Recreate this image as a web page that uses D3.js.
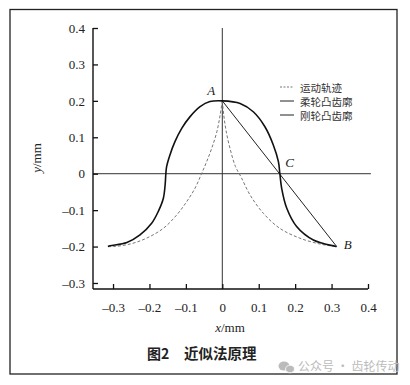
<!DOCTYPE html>
<html><head><meta charset="utf-8">
<script src="https://cdn.jsdelivr.net/npm/d3@7"></script>
<style>html,body{margin:0;padding:0;background:#fff;}svg{display:block;}</style>
</head><body>
<script>
// ---- data ----
const xTicks = [-0.3, -0.2, -0.1, 0, 0.1, 0.2, 0.3, 0.4];
const yTicks = [-0.3, -0.2, -0.1, 0, 0.1, 0.2, 0.3, 0.4];
// flexspline convex tooth profile (left bottom -> top -> right bottom)
const flexX = [-0.314, -0.308, -0.262, -0.226, -0.194, -0.176, -0.162, -0.157, -0.155, -0.153, -0.144, -0.130, -0.111, -0.089, -0.061, -0.034, 0,
               0.049, 0.085, 0.117, 0.140, 0.154, 0.158, 0.163, 0.177, 0.204, 0.250, 0.309, 0.314];
const flexY = [-0.2, -0.198, -0.189, -0.168, -0.136, -0.104, -0.068, -0.031, 0, 0.019, 0.051, 0.088, 0.125, 0.156, 0.184, 0.198, 0.2,
               0.193, 0.170, 0.129, 0.079, 0.033, 0, -0.040, -0.095, -0.145, -0.182, -0.199, -0.2];
// motion trajectory (two branches meeting in a cusp at A)
const trajLeftX = [-0.314, -0.299, -0.253, -0.208, -0.162, -0.125, -0.098, -0.075, -0.057, -0.043, -0.029, -0.015, -0.006, 0];
const trajLeftY = [-0.2, -0.2, -0.193, -0.177, -0.150, -0.113, -0.077, -0.040, 0, 0.033, 0.070, 0.115, 0.161, 0.2];
const trajRightX = [0, 0.004, 0.010, 0.021, 0.036, 0.052, 0.076, 0.113, 0.158, 0.213, 0.268, 0.305, 0.314];
const trajRightY = [0.2, 0.161, 0.120, 0.070, 0.020, -0.010, -0.058, -0.109, -0.150, -0.177, -0.193, -0.199, -0.2];
// circular spline convex tooth profile (straight line A-B)
const rigidX = [0, 0.314];
const rigidY = [0.2, -0.2];
const legendLabels = ["运动轨迹", "柔轮凸齿廓", "刚轮凸齿廓"];
const pointLabels = [{t:"A", x:0, y:0.2}, {t:"C", x:0.157, y:0}, {t:"B", x:0.314, y:-0.2}];

const W = 410, H = 385;
const svg = d3.select("body").append("svg").attr("width", W).attr("height", H);

// frame
svg.append("rect").attr("x", 10).attr("y", 9.5).attr("width", 387).attr("height", 364.5)
  .attr("fill", "#fff").attr("stroke", "#222").attr("stroke-width", 1.3);

const x = d3.scaleLinear().domain([-0.355, 0.4]).range([93, 368]);
const y = d3.scaleLinear().domain([-0.3165, 0.4]).range([289, 28]);

const serif = "'Liberation Serif','DejaVu Serif',serif";
const fmt = d => d === 0 ? "0" : (d < 0 ? "\u2013" + d3.format(".1f")(-d) : d3.format(".1f")(d));

// reference lines
svg.append("line").attr("x1", x(0)).attr("x2", x(0)).attr("y1", y(0.4)).attr("y2", y(-0.3165))
  .attr("stroke", "#333").attr("stroke-width", 1);
svg.append("line").attr("x1", x(-0.355)).attr("x2", x(0.408)).attr("y1", y(0)).attr("y2", y(0))
  .attr("stroke", "#333").attr("stroke-width", 1);

// axes
const gx = svg.append("g").attr("transform", `translate(0,${y(-0.3165)})`)
  .call(d3.axisBottom(x).tickValues(xTicks).tickSize(-5).tickPadding(14).tickFormat(fmt));
const gy = svg.append("g").attr("transform", `translate(${x(-0.355)},0)`)
  .call(d3.axisLeft(y).tickValues(yTicks).tickSize(-5).tickPadding(8).tickFormat(fmt));
[gx, gy].forEach(g => {
  g.attr("font-family", serif).attr("font-size", 13);
  g.select(".domain").attr("stroke", "#111").attr("stroke-width", 1.4);
  g.selectAll(".tick line").attr("stroke", "#111").attr("stroke-width", 1.3);
  g.selectAll(".tick text").style("font-family", serif).style("font-size", "13px").attr("fill", "#222");
});
gx.select(".domain").attr("d", `M${x(-0.355)},0H${x(0.4)}`);
gy.select(".domain").attr("d", `M0,${y(-0.3165)}V${y(0.4)}`);

// curves
const line = d3.line().x(d => x(d[0])).y(d => y(d[1])).curve(d3.curveCatmullRom.alpha(0.5));
const zipXY = (a, b) => a.map((v, i) => [v, b[i]]);

svg.append("path").attr("d", line(zipXY(trajLeftX, trajLeftY)))
  .attr("fill", "none").attr("stroke", "#777").attr("stroke-width", 1).attr("stroke-dasharray", "3,2");
svg.append("path").attr("d", line(zipXY(trajRightX, trajRightY)))
  .attr("fill", "none").attr("stroke", "#777").attr("stroke-width", 1).attr("stroke-dasharray", "3,2");
svg.append("path").attr("d", d3.line().x(d => x(d[0])).y(d => y(d[1]))(zipXY(rigidX, rigidY)))
  .attr("fill", "none").attr("stroke", "#222").attr("stroke-width", 1);
svg.append("path").attr("d", line(zipXY(flexX, flexY)))
  .attr("fill", "none").attr("stroke", "#111").attr("stroke-width", 1.6);

// point labels
const off = {A: [-11, -9], C: [10, -10], B: [11, -1]};
pointLabels.forEach(p => {
  svg.append("text").attr("x", x(p.x) + off[p.t][0]).attr("y", y(p.y) + off[p.t][1])
    .attr("text-anchor", "middle").attr("dominant-baseline", "middle")
    .style("font-family", serif).attr("font-style", "italic").attr("font-size", 13).attr("fill", "#222").text(p.t);
});

// legend
const legY = [87, 101, 115];
legendLabels.forEach((t, i) => {
  svg.append("line").attr("x1", 280).attr("x2", 294).attr("y1", legY[i]).attr("y2", legY[i])
    .attr("stroke", i === 0 ? "#777" : "#222").attr("stroke-width", 1)
    .attr("stroke-dasharray", i === 0 ? "2,1.5" : null);
  svg.append("text").attr("x", 300).attr("y", legY[i]).attr("dominant-baseline", "central")
    .attr("font-family", "'Noto Sans CJK SC',sans-serif").attr("font-size", 10.5).attr("fill", "#333").text(t);
});

// axis titles
const yt = svg.append("text").attr("transform", `translate(41,158) rotate(-90)`).attr("text-anchor", "middle")
  .style("font-family", serif).attr("font-size", 13).attr("fill", "#222");
yt.append("tspan").attr("font-style", "italic").text("y");
yt.append("tspan").text("/mm");
const xt = svg.append("text").attr("x", 230).attr("y", 332).attr("text-anchor", "middle")
  .style("font-family", serif).attr("font-size", 13).attr("fill", "#222");
xt.append("tspan").attr("font-style", "italic").text("x");
xt.append("tspan").text("/mm");

// caption
svg.append("text").attr("x", 147).attr("y", 359).attr("font-family", "'Noto Sans CJK SC',sans-serif")
  .attr("font-weight", "bold").attr("font-size", 14).attr("fill", "#222").text("图2");
svg.append("text").attr("x", 184).attr("y", 359).attr("font-family", "'Noto Sans CJK SC',sans-serif")
  .attr("font-weight", "bold").attr("font-size", 14.5).attr("fill", "#222").text("近似法原理");

// watermark
const wm = svg.append("g").attr("fill", "#bbb");
wm.append("ellipse").attr("cx", 284).attr("cy", 366).attr("rx", 5.5).attr("ry", 4.5);
wm.append("ellipse").attr("cx", 290).attr("cy", 369).attr("rx", 4.5).attr("ry", 3.8).attr("stroke", "#fff").attr("stroke-width", 0.8);
svg.append("text").attr("x", 298).attr("y", 371).attr("font-family", "'Noto Sans CJK SC',sans-serif")
  .attr("font-size", 12).attr("fill", "#bbb").text("公众号 · 齿轮传动");
</script>
</body></html>
